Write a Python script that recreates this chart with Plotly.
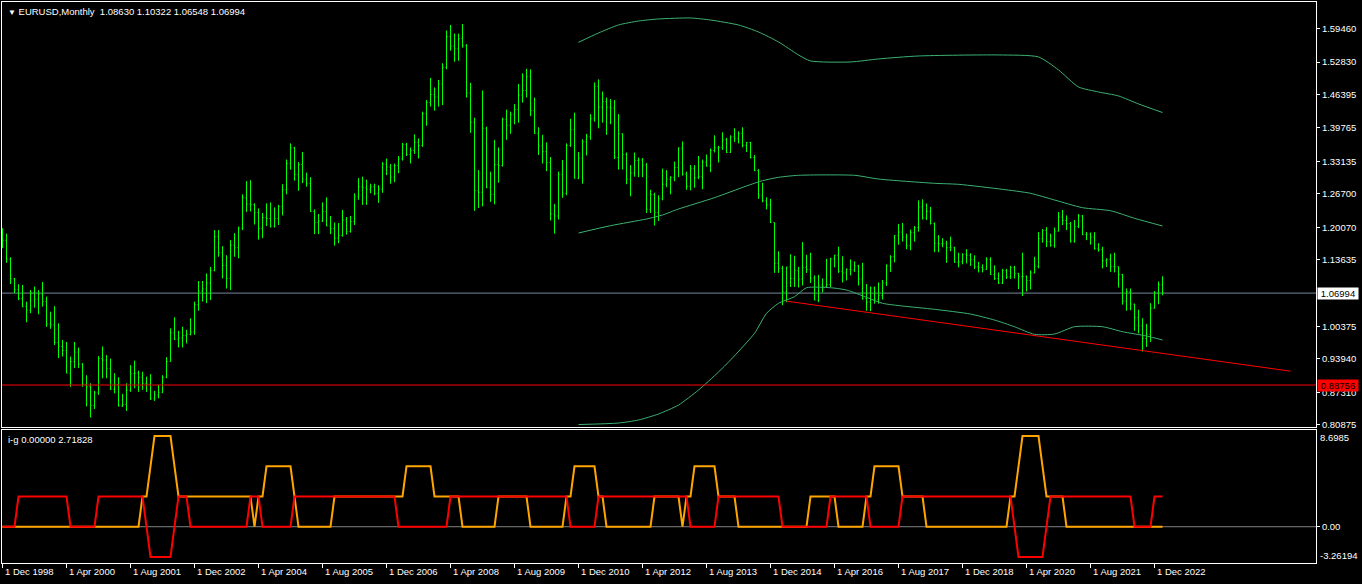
import math
import pandas as pd
import plotly.graph_objects as go

# EURUSD monthly bars, Dec 1998 .. Feb 2023
OPEN = [1.1660,
        1.1740, 1.1370, 1.0985, 1.0765, 1.0590, 1.0430, 1.0360, 1.0700, 1.0580, 1.0680, 1.0530, 1.0090,
        1.0070, 0.9720, 0.9640, 0.9560, 0.9110, 0.9340, 0.9530, 0.9290, 0.8890, 0.8840, 0.8470, 0.8720,
        0.9400, 0.9370, 0.9200, 0.8790, 0.8880, 0.8460, 0.8490, 0.8770, 0.9100, 0.9110, 0.9030, 0.8910,
        0.8890, 0.8600, 0.8680, 0.8720, 0.9030, 0.9340, 0.9910, 0.9780, 0.9810, 0.9860, 0.9880, 0.9930,
        1.0470, 1.0740, 1.0780, 1.0900, 1.1150, 1.1820, 1.1500, 1.1250, 1.0990, 1.1650, 1.1600, 1.1990,
        1.2590, 1.2470, 1.2460, 1.2300, 1.1980, 1.2200, 1.2180, 1.2030, 1.2180, 1.2420, 1.2750, 1.3270,
        1.3580, 1.3050, 1.3250, 1.2960, 1.2880, 1.2320, 1.2100, 1.2130, 1.2320, 1.2030, 1.1980, 1.1790,
        1.1840, 1.2150, 1.1920, 1.2120, 1.2610, 1.2810, 1.2790, 1.2760, 1.2810, 1.2680, 1.2760, 1.3260,
        1.3200, 1.3000, 1.3230, 1.3360, 1.3650, 1.3450, 1.3530, 1.3690, 1.3630, 1.4260, 1.4480, 1.4640,
        1.4590, 1.4850, 1.5180, 1.5790, 1.5600, 1.5550, 1.5750, 1.5610, 1.4670, 1.4090, 1.2730, 1.2700,
        1.3970, 1.2800, 1.2660, 1.3250, 1.3230, 1.4150, 1.4030, 1.4240, 1.4340, 1.4630, 1.4720, 1.5000,
        1.4320, 1.3870, 1.3620, 1.3510, 1.3290, 1.2270, 1.2230, 1.3050, 1.2680, 1.3630, 1.3940, 1.2980,
        1.3380, 1.3700, 1.3800, 1.4160, 1.4800, 1.4390, 1.4500, 1.4390, 1.4370, 1.3390, 1.3860, 1.3450,
        1.2960, 1.3080, 1.3330, 1.3340, 1.3240, 1.2360, 1.2660, 1.2300, 1.2570, 1.2860, 1.2960, 1.2990,
        1.3190, 1.3580, 1.3060, 1.2820, 1.3170, 1.2990, 1.3010, 1.3300, 1.3220, 1.3530, 1.3580, 1.3590,
        1.3740, 1.3490, 1.3800, 1.3770, 1.3870, 1.3630, 1.3690, 1.3390, 1.3130, 1.2630, 1.2530, 1.2450,
        1.2100, 1.1290, 1.1190, 1.0730, 1.1220, 1.0990, 1.1150, 1.0980, 1.1210, 1.1170, 1.1000, 1.0560,
        1.0860, 1.0830, 1.0870, 1.1380, 1.1450, 1.1130, 1.1100, 1.1170, 1.1160, 1.1240, 1.0980, 1.0590,
        1.0520, 1.0800, 1.0580, 1.0650, 1.0900, 1.1240, 1.1420, 1.1840, 1.1910, 1.1810, 1.1640, 1.1900,
        1.2000, 1.2410, 1.2190, 1.2320, 1.2080, 1.1690, 1.1680, 1.1690, 1.1600, 1.1600, 1.1310, 1.1320,
        1.1460, 1.1450, 1.1370, 1.1220, 1.1210, 1.1170, 1.1370, 1.1070, 1.0990, 1.0900, 1.1150, 1.1020,
        1.1210, 1.1090, 1.1030, 1.1030, 1.0950, 1.1100, 1.1230, 1.1780, 1.1940, 1.1720, 1.1650, 1.1930,
        1.2210, 1.2140, 1.2080, 1.1730, 1.2020, 1.2230, 1.1860, 1.1870, 1.1810, 1.1580, 1.1560, 1.1340,
        1.1370, 1.1230, 1.1220, 1.1070, 1.0540, 1.0730, 1.0480, 1.0220, 1.0050, 0.9800, 0.9880, 1.0400,
        1.0700, 1.08630]

HIGH = [1.1985,
        1.1880, 1.1410, 1.1000, 1.0875, 1.0860, 1.0530, 1.0760, 1.0830, 1.0760, 1.0920, 1.0630, 1.0330,
        1.0440, 1.0100, 0.9770, 0.9730, 0.9440, 0.9730, 0.9620, 0.9310, 0.9070, 0.8910, 0.8760, 0.9450,
        0.9640, 0.9470, 0.9400, 0.9110, 0.9030, 0.8700, 0.8910, 0.9270, 0.9360, 0.9160, 0.9140, 0.9040,
        0.9090, 0.8760, 0.8880, 0.9070, 0.9430, 1.0000, 1.0220, 0.9950, 1.0030, 0.9970, 1.0200, 1.0530,
        1.0940, 1.0940, 1.1090, 1.1220, 1.1950, 1.1950, 1.1630, 1.1450, 1.1750, 1.1890, 1.2020, 1.2660,
        1.2920, 1.2940, 1.2480, 1.2380, 1.2290, 1.2480, 1.2500, 1.2400, 1.2450, 1.2860, 1.3350, 1.3670,
        1.3600, 1.3300, 1.3500, 1.3090, 1.3000, 1.2360, 1.2270, 1.2500, 1.2600, 1.2230, 1.2100, 1.2090,
        1.2350, 1.2210, 1.2230, 1.2680, 1.2980, 1.3010, 1.2950, 1.2870, 1.2870, 1.2840, 1.3300, 1.3370,
        1.3260, 1.3270, 1.3420, 1.3680, 1.3680, 1.3590, 1.3850, 1.3770, 1.4300, 1.4530, 1.4970, 1.4780,
        1.4930, 1.5260, 1.5910, 1.6020, 1.5850, 1.5850, 1.6040, 1.5640, 1.4870, 1.4180, 1.3140, 1.4720,
        1.4000, 1.3110, 1.3740, 1.3590, 1.4180, 1.4340, 1.4300, 1.4450, 1.4850, 1.5060, 1.5150, 1.5140,
        1.4580, 1.3990, 1.3840, 1.3690, 1.3400, 1.2470, 1.3110, 1.3340, 1.3670, 1.4160, 1.4280, 1.3500,
        1.3750, 1.3860, 1.4250, 1.4880, 1.4940, 1.4700, 1.4580, 1.4550, 1.4530, 1.4250, 1.3870, 1.3490,
        1.3240, 1.3490, 1.3390, 1.3380, 1.3280, 1.2750, 1.2690, 1.2640, 1.3170, 1.3140, 1.3020, 1.3310,
        1.3590, 1.3710, 1.3110, 1.3240, 1.3240, 1.3420, 1.3350, 1.3450, 1.3570, 1.3830, 1.3620, 1.3890,
        1.3780, 1.3830, 1.3970, 1.3910, 1.3990, 1.3700, 1.3700, 1.3440, 1.3160, 1.2890, 1.2600, 1.2570,
        1.2100, 1.1530, 1.1240, 1.1220, 1.1470, 1.1440, 1.1220, 1.1710, 1.1460, 1.1500, 1.1050, 1.1060,
        1.0990, 1.1380, 1.1400, 1.1460, 1.1620, 1.1430, 1.1190, 1.1370, 1.1330, 1.1260, 1.1300, 1.0880,
        1.0830, 1.0830, 1.0910, 1.0960, 1.1270, 1.1450, 1.1850, 1.2070, 1.2090, 1.1880, 1.1960, 1.2030,
        1.2540, 1.2560, 1.2480, 1.2410, 1.2100, 1.1850, 1.1790, 1.1740, 1.1820, 1.1620, 1.1500, 1.1490,
        1.1570, 1.1490, 1.1450, 1.1320, 1.1270, 1.1410, 1.1410, 1.1250, 1.1110, 1.1180, 1.1180, 1.1240,
        1.1240, 1.1100, 1.1500, 1.1050, 1.1150, 1.1420, 1.1910, 1.1970, 1.2010, 1.1880, 1.2000, 1.2310,
        1.2350, 1.2240, 1.2110, 1.2150, 1.2270, 1.2250, 1.1910, 1.1900, 1.1910, 1.1690, 1.1620, 1.1390,
        1.1480, 1.1500, 1.1230, 1.1080, 1.0790, 1.0790, 1.0490, 1.0370, 1.0200, 1.0090, 1.0500, 1.0740,
        1.0930, 1.10322]

LOW = [1.1590,
       1.1300, 1.0880, 1.0700, 1.0560, 1.0420, 1.0120, 1.0300, 1.0410, 1.0280, 1.0430, 1.0030, 0.9990,
       0.9670, 0.9410, 0.9440, 0.9110, 0.8840, 0.9210, 0.9210, 0.8840, 0.8450, 0.8230, 0.8400, 0.8680,
       0.9010, 0.9010, 0.8780, 0.8710, 0.8450, 0.8440, 0.8360, 0.8740, 0.8810, 0.8740, 0.8780, 0.8740,
       0.8580, 0.8560, 0.8610, 0.8720, 0.9010, 0.9340, 0.9770, 0.9620, 0.9620, 0.9700, 0.9860, 0.9870,
       1.0350, 1.0530, 1.0500, 1.0560, 1.1130, 1.1420, 1.0990, 1.0790, 1.0760, 1.1420, 1.1390, 1.1950,
       1.2310, 1.2320, 1.2060, 1.1760, 1.1790, 1.2030, 1.2000, 1.2000, 1.2050, 1.2240, 1.2660, 1.3150,
       1.2930, 1.2730, 1.2880, 1.2810, 1.2310, 1.1870, 1.1870, 1.2110, 1.2030, 1.1870, 1.1640, 1.1690,
       1.1820, 1.1860, 1.1900, 1.2050, 1.2550, 1.2450, 1.2450, 1.2680, 1.2640, 1.2490, 1.2690, 1.3040,
       1.2870, 1.2900, 1.3080, 1.3330, 1.3420, 1.3270, 1.3460, 1.3370, 1.3600, 1.4020, 1.4400, 1.4320,
       1.4400, 1.4430, 1.5140, 1.5510, 1.5290, 1.5310, 1.5570, 1.4580, 1.3880, 1.2330, 1.2390, 1.2420,
       1.2780, 1.2510, 1.2460, 1.2890, 1.3210, 1.3740, 1.3860, 1.4050, 1.4080, 1.4480, 1.4580, 1.4210,
       1.3860, 1.3440, 1.3270, 1.3120, 1.2140, 1.1880, 1.2160, 1.2590, 1.2640, 1.3600, 1.2970, 1.2960,
       1.2870, 1.3430, 1.3740, 1.4100, 1.3970, 1.4080, 1.3840, 1.4050, 1.3360, 1.3150, 1.3150, 1.2860,
       1.2620, 1.3010, 1.3000, 1.3000, 1.2290, 1.2290, 1.2040, 1.2130, 1.2540, 1.2800, 1.2660, 1.2920,
       1.3000, 1.3030, 1.2750, 1.2740, 1.2790, 1.2960, 1.2760, 1.3210, 1.3100, 1.3490, 1.3290, 1.3540,
       1.3480, 1.3480, 1.3700, 1.3670, 1.3590, 1.3500, 1.3370, 1.3120, 1.2570, 1.2500, 1.2360, 1.2090,
       1.1100, 1.1100, 1.0460, 1.0520, 1.0820, 1.0820, 1.0810, 1.0850, 1.1100, 1.0900, 1.0560, 1.0520,
       1.0710, 1.0810, 1.0820, 1.1210, 1.1100, 1.0910, 1.0950, 1.1050, 1.1120, 1.0850, 1.0570, 1.0350,
       1.0340, 1.0490, 1.0490, 1.0570, 1.0840, 1.1120, 1.1310, 1.1660, 1.1720, 1.1570, 1.1550, 1.1720,
       1.1920, 1.2160, 1.2150, 1.2060, 1.1510, 1.1510, 1.1610, 1.1300, 1.1530, 1.1300, 1.1210, 1.1270,
       1.1290, 1.1240, 1.1180, 1.1110, 1.1110, 1.1160, 1.1060, 1.0960, 1.0880, 1.0880, 1.0980, 1.0980,
       1.0990, 1.0780, 1.0640, 1.0730, 1.0770, 1.1090, 1.1190, 1.1700, 1.1610, 1.1620, 1.1600, 1.1920,
       1.2050, 1.1950, 1.1700, 1.1700, 1.1990, 1.1850, 1.1750, 1.1660, 1.1560, 1.1520, 1.1190, 1.1220,
       1.1120, 1.1110, 1.0810, 1.0470, 1.0350, 1.0360, 0.9950, 0.9900, 0.9540, 0.9630, 0.9730, 1.0390,
       1.0480, 1.06548]

CLOSE = [1.1740,
         1.1370, 1.0985, 1.0765, 1.0590, 1.0430, 1.0360, 1.0700, 1.0580, 1.0680, 1.0530, 1.0090, 1.0070,
         0.9720, 0.9640, 0.9560, 0.9110, 0.9340, 0.9530, 0.9290, 0.8890, 0.8840, 0.8470, 0.8720, 0.9400,
         0.9370, 0.9200, 0.8790, 0.8880, 0.8460, 0.8490, 0.8770, 0.9100, 0.9110, 0.9030, 0.8910, 0.8890,
         0.8600, 0.8680, 0.8720, 0.9030, 0.9340, 0.9910, 0.9780, 0.9810, 0.9860, 0.9880, 0.9930, 1.0470,
         1.0740, 1.0780, 1.0900, 1.1150, 1.1820, 1.1500, 1.1250, 1.0990, 1.1650, 1.1600, 1.1990, 1.2590,
         1.2470, 1.2460, 1.2300, 1.1980, 1.2200, 1.2180, 1.2030, 1.2180, 1.2420, 1.2750, 1.3270, 1.3580,
         1.3050, 1.3250, 1.2960, 1.2880, 1.2320, 1.2100, 1.2130, 1.2320, 1.2030, 1.1980, 1.1790, 1.1840,
         1.2150, 1.1920, 1.2120, 1.2610, 1.2810, 1.2790, 1.2760, 1.2810, 1.2680, 1.2760, 1.3260, 1.3200,
         1.3000, 1.3230, 1.3360, 1.3650, 1.3450, 1.3530, 1.3690, 1.3630, 1.4260, 1.4480, 1.4640, 1.4590,
         1.4850, 1.5180, 1.5790, 1.5600, 1.5550, 1.5750, 1.5610, 1.4670, 1.4090, 1.2730, 1.2700, 1.3970,
         1.2800, 1.2660, 1.3250, 1.3230, 1.4150, 1.4030, 1.4240, 1.4340, 1.4630, 1.4720, 1.5000, 1.4320,
         1.3870, 1.3620, 1.3510, 1.3290, 1.2270, 1.2230, 1.3050, 1.2680, 1.3630, 1.3940, 1.2980, 1.3380,
         1.3700, 1.3800, 1.4160, 1.4800, 1.4390, 1.4500, 1.4390, 1.4370, 1.3390, 1.3860, 1.3450, 1.2960,
         1.3080, 1.3330, 1.3340, 1.3240, 1.2360, 1.2660, 1.2300, 1.2570, 1.2860, 1.2960, 1.2990, 1.3190,
         1.3580, 1.3060, 1.2820, 1.3170, 1.2990, 1.3010, 1.3300, 1.3220, 1.3530, 1.3580, 1.3590, 1.3740,
         1.3490, 1.3800, 1.3770, 1.3870, 1.3630, 1.3690, 1.3390, 1.3130, 1.2630, 1.2530, 1.2450, 1.2100,
         1.1290, 1.1190, 1.0730, 1.1220, 1.0990, 1.1150, 1.0980, 1.1210, 1.1170, 1.1000, 1.0560, 1.0860,
         1.0830, 1.0870, 1.1380, 1.1450, 1.1130, 1.1100, 1.1170, 1.1160, 1.1240, 1.0980, 1.0590, 1.0520,
         1.0800, 1.0580, 1.0650, 1.0900, 1.1240, 1.1420, 1.1840, 1.1910, 1.1810, 1.1640, 1.1900, 1.2000,
         1.2410, 1.2190, 1.2320, 1.2080, 1.1690, 1.1680, 1.1690, 1.1600, 1.1600, 1.1310, 1.1320, 1.1460,
         1.1450, 1.1370, 1.1220, 1.1210, 1.1170, 1.1370, 1.1070, 1.0990, 1.0900, 1.1150, 1.1020, 1.1210,
         1.1090, 1.1030, 1.1030, 1.0950, 1.1100, 1.1230, 1.1780, 1.1940, 1.1720, 1.1650, 1.1930, 1.2210,
         1.2140, 1.2080, 1.1730, 1.2020, 1.2230, 1.1860, 1.1870, 1.1810, 1.1580, 1.1560, 1.1340, 1.1370,
         1.1230, 1.1220, 1.1070, 1.0540, 1.0730, 1.0480, 1.0220, 1.0050, 0.9800, 0.9880, 1.0400, 1.0700,
         1.08630, 1.06994]

# green channel lines (bar index, price)
UPPER_N = [144, 149, 154, 159, 164, 172, 177, 184, 189, 194, 199, 202, 212, 219, 229, 249, 259, 264,
           269, 274, 279, 284, 290]
UPPER_P = [1.5676, 1.5861, 1.6020, 1.6099, 1.6139, 1.6159, 1.6119, 1.6020, 1.5881, 1.5683, 1.5425,
           1.5306, 1.5286, 1.5346, 1.5405, 1.5425, 1.5386, 1.5128, 1.4790, 1.4691, 1.4612, 1.4453, 1.4283]
MIDDLE_N = [144, 152, 161, 165, 169, 178, 186, 190, 194, 199, 213, 219, 233, 239, 250, 257, 263, 270,
            277, 283, 290]
MIDDLE_P = [1.1892, 1.2037, 1.2170, 1.2249, 1.2368, 1.2593, 1.2825, 1.2930, 1.2997, 1.3037, 1.3037,
            1.2963, 1.2878, 1.2858, 1.2759, 1.2680, 1.2547, 1.2394, 1.2334, 1.2184, 1.2031]
LOWER_N = [144, 154, 159, 164, 169, 174, 179, 182, 188, 191, 194, 198, 201, 207, 211, 216, 220, 225,
           233, 242, 248, 253, 258, 263, 268, 275, 280, 286, 290]
LOWER_P = [0.8091, 0.8121, 0.8181, 0.8300, 0.8478, 0.8776, 0.9133, 0.9371, 0.9901, 1.0298, 1.0497,
           1.0628, 1.0806, 1.0806, 1.0761, 1.0616, 1.0497, 1.0443, 1.0378, 1.0284, 1.0165, 1.0032,
           0.9881, 0.9887, 1.0032, 1.0032, 0.9933, 0.9848, 0.9769]

# trend line and horizontal line objects
TREND_N = [196, 322]
TREND_P = [1.0540, 0.9150]
HLINE = 0.88756

# i-g indicator: (level in units of e, number of bars)
ORANGE_RUNS = [(0, 35), (1, 2), (2, 1), (3, 5), (2, 1), (1, 19), (0, 1), (1, 2), (2, 7), (1, 1),
               (0, 9), (1, 18), (2, 7), (1, 7), (0, 9), (1, 8), (0, 9), (1, 2), (2, 6), (1, 2),
               (0, 12), (1, 7), (0, 1), (1, 2), (2, 6), (1, 5), (0, 18), (1, 7), (0, 7), (1, 2),
               (2, 7), (1, 6), (0, 21), (1, 2), (2, 1), (3, 5), (2, 1), (1, 5), (0, 25)]
RED_RUNS = [(0, 4), (1, 13), (0, 7), (1, 12), (0, 1), (-1, 6), (0, 1), (1, 3), (0, 15), (1, 3),
            (0, 8), (1, 26), (0, 13), (1, 30), (0, 7), (1, 23), (0, 7), (1, 16), (0, 12), (1, 10),
            (0, 8), (1, 28), (0, 1), (-1, 7), (0, 1), (1, 21), (0, 5), (1, 3)]

PRICE_TICKS = [1.59460, 1.52830, 1.46395, 1.39765, 1.33135, 1.26700, 1.20070, 1.13635,
               1.00375, 0.93940, 0.87310, 0.80875]
IND_MAX = 8.6985
IND_MIN = -3.26194

GREEN = "#00ff00"
BAND = "#3cb371"
FONT = "Tahoma, Liberation Sans, Arial"


def expand(runs):
    out = []
    for lvl, cnt in runs:
        out += [lvl * math.e] * cnt
    return out


idx = list(range(len(CLOSE)))
dates = pd.date_range("1998-12-01", periods=len(CLOSE), freq="MS")
orange = expand(ORANGE_RUNS)
red = expand(RED_RUNS)

fig = go.Figure()

# price bars
fig.add_trace(go.Ohlc(
    x=idx, open=OPEN, high=HIGH, low=LOW, close=CLOSE,
    increasing=dict(line=dict(color=GREEN, width=1)),
    decreasing=dict(line=dict(color=GREEN, width=1)),
    tickwidth=0.25, hoverinfo="skip", xaxis="x", yaxis="y"))

for xs, ys in [(UPPER_N, UPPER_P), (MIDDLE_N, MIDDLE_P), (LOWER_N, LOWER_P)]:
    fig.add_trace(go.Scatter(x=xs, y=ys, mode="lines",
                             line=dict(color=BAND, width=1, shape="spline", smoothing=0.6),
                             hoverinfo="skip", xaxis="x", yaxis="y"))

fig.add_trace(go.Scatter(x=TREND_N, y=TREND_P, mode="lines", line=dict(color="red", width=1),
                         hoverinfo="skip", xaxis="x", yaxis="y"))

# indicator pane
fig.add_trace(go.Scatter(x=idx, y=orange, mode="lines", line=dict(color="#ffa500", width=2),
                         hoverinfo="skip", xaxis="x2", yaxis="y2"))
fig.add_trace(go.Scatter(x=idx, y=red, mode="lines", line=dict(color="#ff0000", width=2),
                         hoverinfo="skip", xaxis="x2", yaxis="y2"))

axis_common = dict(showgrid=False, zeroline=False, showline=True, mirror=True,
                   linecolor="white", linewidth=1, tickcolor="white",
                   tickfont=dict(color="white", size=9.5, family=FONT))
# half-pixel offset so 1px bar lines land on pixel centres (4 px per bar)
x_range = [-0.125, 328.375]
label_idx = idx[::16]
labels = [f"1 {d.strftime('%b')} {d.year}" for d in dates[::16]]

fig.update_layout(
    width=1362, height=584,
    paper_bgcolor="black", plot_bgcolor="black",
    margin=dict(l=2, r=46, t=2, b=21),
    showlegend=False,
    font=dict(family=FONT, size=9.5, color="white"),
    xaxis=dict(domain=[0, 1], anchor="y", range=x_range, showticklabels=False, ticks="",
               rangeslider=dict(visible=False), **axis_common),
    xaxis2=dict(domain=[0, 1], anchor="y2", range=x_range, matches="x",
                tickvals=label_idx, ticks="outside", ticklen=4, showticklabels=False,
                **axis_common),
    yaxis=dict(domain=[0.2424, 1], anchor="x", side="right", range=[0.8042, 1.6476],
               tickvals=PRICE_TICKS, ticktext=[f"{v:.5f}" for v in PRICE_TICKS],
               ticks="outside", ticklen=3, **axis_common),
    yaxis2=dict(domain=[0, 0.2371], anchor="x2", side="right", range=[IND_MIN, IND_MAX],
                tickvals=[0], ticktext=["0.00"], ticks="outside", ticklen=3, **axis_common),
)

# current price line, horizontal line, zero level
fig.add_shape(type="line", xref="paper", x0=0, x1=1, yref="y", y0=CLOSE[-1], y1=CLOSE[-1],
              line=dict(color="#778899", width=1), layer="below")
fig.add_shape(type="line", xref="paper", x0=0, x1=1, yref="y", y0=HLINE, y1=HLINE,
              line=dict(color="red", width=1), layer="above")
fig.add_shape(type="line", xref="paper", x0=0, x1=1, yref="y2", y0=0, y1=0,
              line=dict(color="#808080", width=1), layer="below")

title = ("<span style='font-size:8px'>▼</span> EURUSD,Monthly&nbsp;&nbsp;"
         f"{OPEN[-1]:.5f} {HIGH[-1]:.5f} {LOW[-1]:.5f} {CLOSE[-1]:.5f}")
fig.add_annotation(text=title, xref="paper", yref="paper", x=0, y=1, xanchor="left",
                   yanchor="top", xshift=4, yshift=-2, showarrow=False,
                   font=dict(color="white", size=9.5, family=FONT))
fig.add_annotation(text=f"i-g {orange[-1]:.5f} {red[-1]:.5f}", xref="paper", yref="y2 domain",
                   x=0, y=1, xanchor="left", yanchor="top", xshift=4, yshift=-2, showarrow=False,
                   font=dict(color="white", size=9.5, family=FONT))

# price boxes on the right scale
fig.add_annotation(text=f"{CLOSE[-1]:.5f}", xref="paper", yref="y", x=1, y=CLOSE[-1],
                   xanchor="left", xshift=1, showarrow=False, bgcolor="white", width=40,
                   align="center", borderpad=0, font=dict(color="black", size=9.5, family=FONT))
fig.add_annotation(text=f"{HLINE:.5f}", xref="paper", yref="y", x=1, y=HLINE,
                   xanchor="left", xshift=1, showarrow=False, bgcolor="red", width=40,
                   align="center", borderpad=0, font=dict(color="black", size=9.5, family=FONT))

# indicator scale limits
fig.add_annotation(text=f"{IND_MAX}", xref="paper", yref="y2 domain", x=1, y=1,
                   xanchor="left", yanchor="top", xshift=2, showarrow=False,
                   font=dict(color="white", size=9.5, family=FONT))
fig.add_annotation(text=f"{IND_MIN}", xref="paper", yref="y2 domain", x=1, y=0,
                   xanchor="left", yanchor="bottom", xshift=2, showarrow=False,
                   font=dict(color="white", size=9.5, family=FONT))

# date labels, left-aligned at their ticks
for n, lab in zip(label_idx, labels):
    fig.add_annotation(text=lab, xref="x2", yref="paper", x=n, y=0, xanchor="left",
                       yanchor="top", yshift=-1, showarrow=False,
                       font=dict(color="white", size=9.5, family=FONT))

# the page's default body margin would push the figure off its 1362x584 frame
fig.write_html("out.html", config={"displayModeBar": False},
               post_script="document.body.style.margin='0';document.body.style.overflow='hidden';")
